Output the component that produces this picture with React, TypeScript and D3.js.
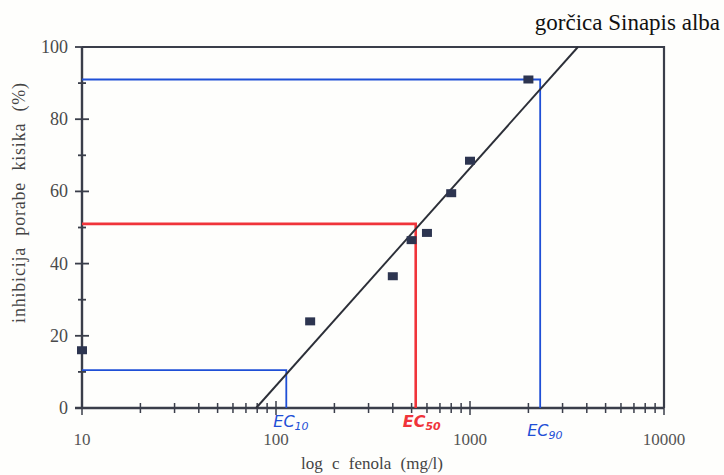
import * as d3 from "d3";
import { useEffect, useRef } from "react";

const points: [number, number][] = [
  [10, 16], [150, 24], [400, 36.5], [500, 46.5], [600, 48.5],
  [800, 59.5], [1000, 68.5], [2000, 91],
];
const fitLine: [number, number][] = [[79, 0], [3600, 100]];
const ecNames = ["10", "50", "90"];
const ecConc = [113, 525, 2300];
const ecLevel = [10.5, 51, 91];
const ecColors = ["#1f4fd6", "#f0343a", "#1f4fd6"];
const xTicks = [10, 100, 1000, 10000];
const yTicks = [0, 20, 40, 60, 80, 100];

export default function App() {
  const ref = useRef<SVGSVGElement>(null);

  useEffect(() => {
    const svg = d3.select(ref.current);
    svg.selectAll("*").remove();
    const ink = "#3a3e4a";

    const x = d3.scaleLog().domain([10, 10000]).range([82, 664]);
    const y = d3.scaleLinear().domain([0, 100]).range([408, 47]);

    svg.append("rect").attr("width", 724).attr("height", 475).attr("fill", "#fefefc");

    // title
    svg.append("text").attr("x", 720).attr("y", 30).attr("text-anchor", "end")
      .attr("font-family", "Liberation Serif").attr("font-size", 23).attr("fill", "#111")
      .text("gorčica Sinapis alba");

    // frame
    svg.append("path")
      .attr("d", `M${x(10)},${y(100)}H${x(10000)}V${y(0)}`)
      .attr("fill", "none").attr("stroke", ink).attr("stroke-width", 2.2);
    svg.append("line").attr("x1", x(10)).attr("x2", x(10)).attr("y1", y(100)).attr("y2", y(0))
      .attr("stroke", ink).attr("stroke-width", 2.4);
    svg.append("line").attr("x1", 75).attr("x2", x(10000)).attr("y1", y(0)).attr("y2", y(0))
      .attr("stroke", ink).attr("stroke-width", 2.4);

    // y ticks (major + minor, crossing the axis)
    const yAll = d3.range(0, 101, 10);
    svg.append("g").selectAll("line").data(yAll).join("line")
      .attr("x1", (d) => x(10) - (d % 20 === 0 ? 7 : 4))
      .attr("x2", (d) => x(10) + (d % 20 === 0 ? 7 : 4))
      .attr("y1", (d) => y(d)).attr("y2", (d) => y(d))
      .attr("stroke", ink).attr("stroke-width", 1.8);
    svg.append("g").selectAll("text").data(yTicks).join("text")
      .attr("x", 68).attr("y", (d) => y(d) + 6).attr("text-anchor", "end")
      .attr("font-family", "Liberation Serif").attr("font-size", 18).attr("fill", "#4a4a4a")
      .text((d) => d);

    // x ticks
    const xAll: number[] = [];
    [10, 100, 1000].forEach((b) => { for (let k = 1; k <= 10; k++) xAll.push(b * k); });
    svg.append("g").selectAll("line").data(Array.from(new Set(xAll))).join("line")
      .attr("x1", (d) => x(d)).attr("x2", (d) => x(d))
      .attr("y1", (d) => y(0) - (xTicks.includes(d) ? 7 : 5))
      .attr("y2", (d) => y(0) + (xTicks.includes(d) ? 7 : 5))
      .attr("stroke", ink).attr("stroke-width", 1.5);
    svg.append("g").selectAll("text").data(xTicks).join("text")
      .attr("x", (d) => x(d)).attr("y", 445).attr("text-anchor", "middle")
      .attr("font-family", "Liberation Serif").attr("font-size", 17).attr("fill", "#555")
      .text((d) => d);

    // axis titles
    svg.append("text").attr("x", 372).attr("y", 469).attr("text-anchor", "middle")
      .attr("font-family", "Liberation Serif").attr("font-size", 17).attr("fill", "#444")
      .attr("word-spacing", 5).text("log c fenola (mg/l)");
    svg.append("text").attr("transform", `translate(25,${y(50) - 25}) rotate(-90)`)
      .attr("text-anchor", "middle").attr("font-family", "Liberation Serif")
      .attr("font-size", 18).attr("letter-spacing", 0.8).attr("word-spacing", 6)
      .attr("fill", "#444").text("inhibicija porabe kisika (%)");

    // EC guide lines
    ecConc.forEach((c, i) => {
      svg.append("path")
        .attr("d", `M${x(10)},${y(ecLevel[i])}H${x(c)}V${y(0)}`)
        .attr("fill", "none").attr("stroke", ecColors[i]).attr("stroke-width", i === 1 ? 2.6 : 1.8);
      const t = svg.append("text").attr("x", x(c) - 13).attr("y", y(0) + (i === 2 ? 28 : 19))
        .attr("font-family", "DejaVu Sans").attr("font-style", "italic")
        .attr("font-weight", i === 1 ? "bold" : "normal")
        .attr("font-size", 16).attr("fill", ecColors[i]).text("EC");
      t.append("tspan").attr("dy", 3).attr("font-size", 11).text(ecNames[i]);
    });

    // fit line
    svg.append("line")
      .attr("x1", x(fitLine[0][0])).attr("y1", y(fitLine[0][1]))
      .attr("x2", x(fitLine[1][0])).attr("y2", y(fitLine[1][1]))
      .attr("stroke", "#2c2f38").attr("stroke-width", 1.9);

    // points
    svg.append("g").selectAll("rect").data(points).join("rect")
      .attr("x", (d) => x(d[0]) - 5).attr("y", (d) => y(d[1]) - 4)
      .attr("width", 10).attr("height", 8).attr("fill", "#2d3550");
  }, []);

  return (
    <svg ref={ref} width={724} height={475}
      style={{ position: "absolute", left: 0, top: 0 }} />
  );
}
